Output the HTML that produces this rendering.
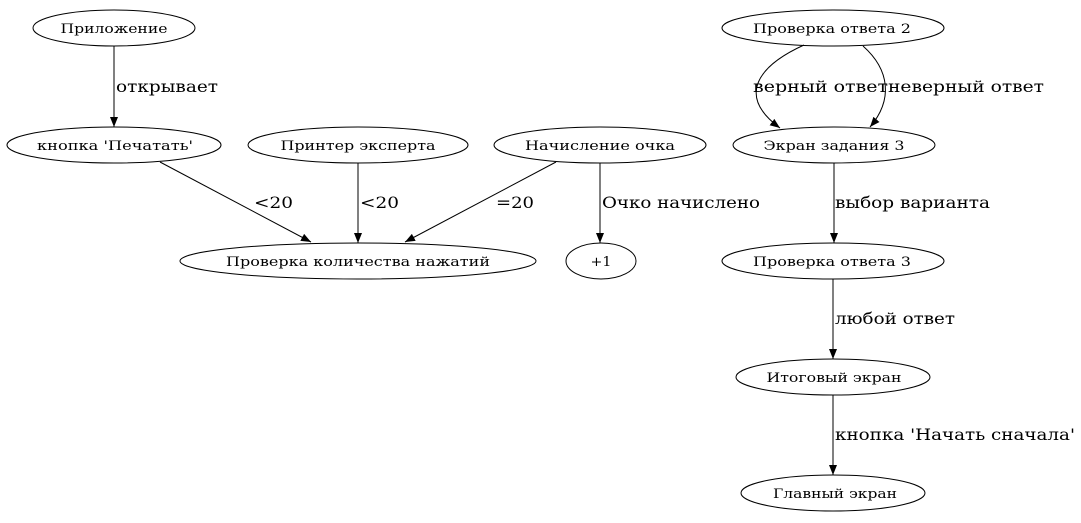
<!DOCTYPE html>
<html><head><meta charset="utf-8"><style>
html,body{margin:0;padding:0;background:#fff;}
svg{display:block;}
text{font-family:"DejaVu Serif","Liberation Serif",serif;fill:#000;}
.n{font-size:13px;text-anchor:middle;}
.e{font-size:16px;}
ellipse{fill:none;stroke:#000;stroke-width:1;}
.l{fill:none;stroke:#000;stroke-width:1;}
</style></head><body>
<svg width="1081" height="523" viewBox="0 0 1081 523" xmlns="http://www.w3.org/2000/svg">
<defs><marker id="a" markerWidth="10" markerHeight="8" refX="10" refY="4" orient="auto" markerUnits="userSpaceOnUse"><path d="M0,0 L10,4 L0,8 z" fill="#000"/></marker></defs>

<ellipse cx="114" cy="28" rx="81" ry="18"/><text class="n" x="114" y="33" textLength="107" lengthAdjust="spacingAndGlyphs">Приложение</text>
<ellipse cx="114" cy="145" rx="107" ry="18"/><text class="n" x="115" y="150" textLength="156" lengthAdjust="spacingAndGlyphs">кнопка 'Печатать'</text>
<ellipse cx="358" cy="145" rx="110" ry="18"/><text class="n" x="358" y="150" textLength="155" lengthAdjust="spacingAndGlyphs">Принтер эксперта</text>
<ellipse cx="600" cy="145" rx="106" ry="18"/><text class="n" x="600" y="150" textLength="150" lengthAdjust="spacingAndGlyphs">Начисление очка</text>
<ellipse cx="358" cy="261" rx="178" ry="18"/><text class="n" x="358" y="266" textLength="264" lengthAdjust="spacingAndGlyphs">Проверка количества нажатий</text>
<ellipse cx="601" cy="261" rx="35" ry="18"/><text class="n" x="601" y="266" textLength="21" lengthAdjust="spacingAndGlyphs">+1</text>
<ellipse cx="833" cy="28" rx="111" ry="18"/><text class="n" x="832" y="33" textLength="158" lengthAdjust="spacingAndGlyphs">Проверка ответа 2</text>
<ellipse cx="834" cy="145" rx="101" ry="18"/><text class="n" x="834" y="150" textLength="141" lengthAdjust="spacingAndGlyphs">Экран задания 3</text>
<ellipse cx="833" cy="261" rx="111" ry="18"/><text class="n" x="832" y="266" textLength="158" lengthAdjust="spacingAndGlyphs">Проверка ответа 3</text>
<ellipse cx="833" cy="377" rx="97" ry="18"/><text class="n" x="834" y="382" textLength="135" lengthAdjust="spacingAndGlyphs">Итоговый экран</text>
<ellipse cx="833" cy="493" rx="92" ry="18"/><text class="n" x="835" y="498" textLength="124" lengthAdjust="spacingAndGlyphs">Главный экран</text>

<line class="l" x1="114" y1="46" x2="114" y2="127" marker-end="url(#a)"/>
<text class="e" x="116" y="92" textLength="102" lengthAdjust="spacingAndGlyphs">открывает</text>

<line class="l" x1="160" y1="162" x2="311" y2="242" marker-end="url(#a)"/>
<text class="e" x="254" y="208" textLength="39" lengthAdjust="spacingAndGlyphs">&lt;20</text>
<line class="l" x1="358" y1="163" x2="358" y2="243" marker-end="url(#a)"/>
<text class="e" x="360" y="208" textLength="39" lengthAdjust="spacingAndGlyphs">&lt;20</text>
<line class="l" x1="556" y1="162" x2="405" y2="242" marker-end="url(#a)"/>
<text class="e" x="496" y="208" textLength="38" lengthAdjust="spacingAndGlyphs">=20</text>
<line class="l" x1="600" y1="163" x2="600" y2="243" marker-end="url(#a)"/>
<text class="e" x="602" y="208" textLength="158" lengthAdjust="spacingAndGlyphs">Очко начислено</text>

<path class="l" d="M804,45 C760,65 735,95 780,128" marker-end="url(#a)"/>
<text class="e" x="753" y="92" textLength="135" lengthAdjust="spacingAndGlyphs">верный ответ</text>
<path class="l" d="M863,46 C890,70 893,100 870,127" marker-end="url(#a)"/>
<text class="e" x="888" y="92" textLength="156" lengthAdjust="spacingAndGlyphs">неверный ответ</text>

<line class="l" x1="834" y1="163" x2="834" y2="243" marker-end="url(#a)"/>
<text class="e" x="835" y="208" textLength="155" lengthAdjust="spacingAndGlyphs">выбор варианта</text>
<line class="l" x1="833" y1="279" x2="833" y2="359" marker-end="url(#a)"/>
<text class="e" x="835" y="324" textLength="120" lengthAdjust="spacingAndGlyphs">любой ответ</text>
<line class="l" x1="833" y1="395" x2="833" y2="475" marker-end="url(#a)"/>
<text class="e" x="835" y="440" textLength="240" lengthAdjust="spacingAndGlyphs">кнопка 'Начать сначала'</text>
</svg>
</body></html>
